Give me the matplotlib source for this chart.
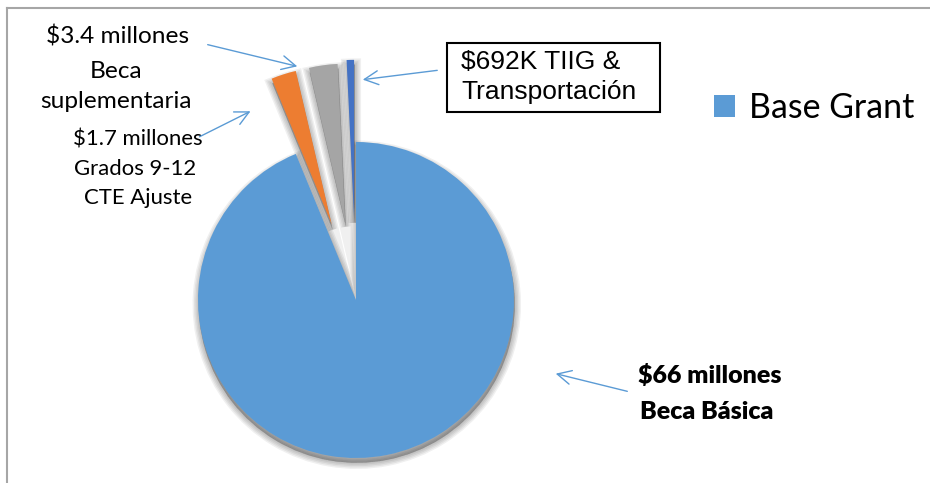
import matplotlib.pyplot as plt
from matplotlib.patches import Wedge

# slice values (millions)
segments = ['Base Grant', 'Grados 9-12 CTE Ajuste', 'Beca suplementaria', 'TIIG & Transportación']
millions = [66.0, 1.8, 2.05, 0.53]
colors = ['#5B9BD5', '#ED7D31', '#A5A5A5', '#4472C4']
explode = [0, 0.5, 0.5, 0.52]

W, H = 930, 483
fig = plt.figure(figsize=(9.3, 4.83), dpi=100)

# pie axes placed so the pie centre sits at (356, 300) px, radius 158 px
cx, cy, r, L = 356, 300, 158, 1.6
side = 2 * L * r
pie_ax = fig.add_axes([(cx - side / 2) / W, (H - cy - side / 2) / H, side / W, side / H])
wedges, _ = pie_ax.pie(millions, colors=colors, explode=explode, startangle=90,
                       counterclock=False, radius=1, wedgeprops={'linewidth': 0})
pie_ax.set_xlim(-L, L)
pie_ax.set_ylim(-L, L)
pie_ax.set_aspect('equal')
pie_ax.axis('off')

# soft drop shadow: stacked translucent copies with growing edge width
for w in wedges:
    (x0, y0), t1, t2 = w.center, w.theta1, w.theta2
    for lw in [1, 3, 5, 7, 9]:
        sh = Wedge((x0 + 0.005, y0 - 0.03), w.r, t1, t2, facecolor='black',
                   edgecolor='black', lw=lw, alpha=0.06, zorder=0.5)
        pie_ax.add_patch(sh)
    w.set_zorder(1)

# overlay in pixel coordinates for frame, labels, arrows
ov = fig.add_axes([0, 0, 1, 1])
ov.set_xlim(0, W)
ov.set_ylim(H, 0)
ov.axis('off')
ov.patch.set_alpha(0)

ov.plot([7, 7], [8, H], color='#a6a6a6', lw=1.5)
ov.plot([7, W], [8, 8], color='#a6a6a6', lw=1.5)

calibri = ['Lato', 'DejaVu Sans']
ov.text(118, 37, '$3.4 millones', ha='center', va='center', fontsize=17.6, family=calibri)
ov.text(116, 72, 'Beca', ha='center', va='center', fontsize=17.6, family=calibri)
ov.text(116, 102, 'suplementaria', ha='center', va='center', fontsize=17.6, family=calibri)

ov.text(138, 139, '$1.7 millones', ha='center', va='center', fontsize=15.9, family=calibri)
ov.text(135, 169, 'Grados 9-12', ha='center', va='center', fontsize=15.9, family=calibri)
ov.text(138, 198, 'CTE Ajuste', ha='center', va='center', fontsize=15.9, family=calibri)

ov.text(638, 375, '$66 millones', ha='left', va='center', fontsize=18,
        fontweight='heavy', family=calibri)
ov.text(640, 412, 'Beca Básica', ha='left', va='center', fontsize=18,
        fontweight='heavy', family=calibri)

ov.add_patch(plt.Rectangle((447, 43), 213, 69, fill=False, edgecolor='black', lw=1.5))
ov.text(461, 62, '$692K TIIG &', ha='left', va='center', fontsize=19, family='Liberation Sans')
ov.text(461, 92, 'Transportación', ha='left', va='center', fontsize=19, family='Liberation Sans')

arrow = dict(arrowstyle='->,head_length=1.0,head_width=0.5', color='#5B9BD5', lw=1)
for tail, head in [((205, 44), (300, 67)), ((197, 138), (253, 110)),
                   ((440, 70), (360, 80)), ((630, 392), (553, 373))]:
    ov.annotate('', xy=head, xytext=tail, arrowprops=arrow)

fig.legend([wedges[0]], [segments[0]], loc='center left', frameon=False,
           bbox_to_anchor=(714 / W, 1 - 108 / H), borderaxespad=0,
           handlelength=0.62, handleheight=0.62, handletextpad=0.4,
           borderpad=0, prop={'family': calibri, 'size': 24.4})

fig.savefig('out.png', dpi=100, facecolor='white')
